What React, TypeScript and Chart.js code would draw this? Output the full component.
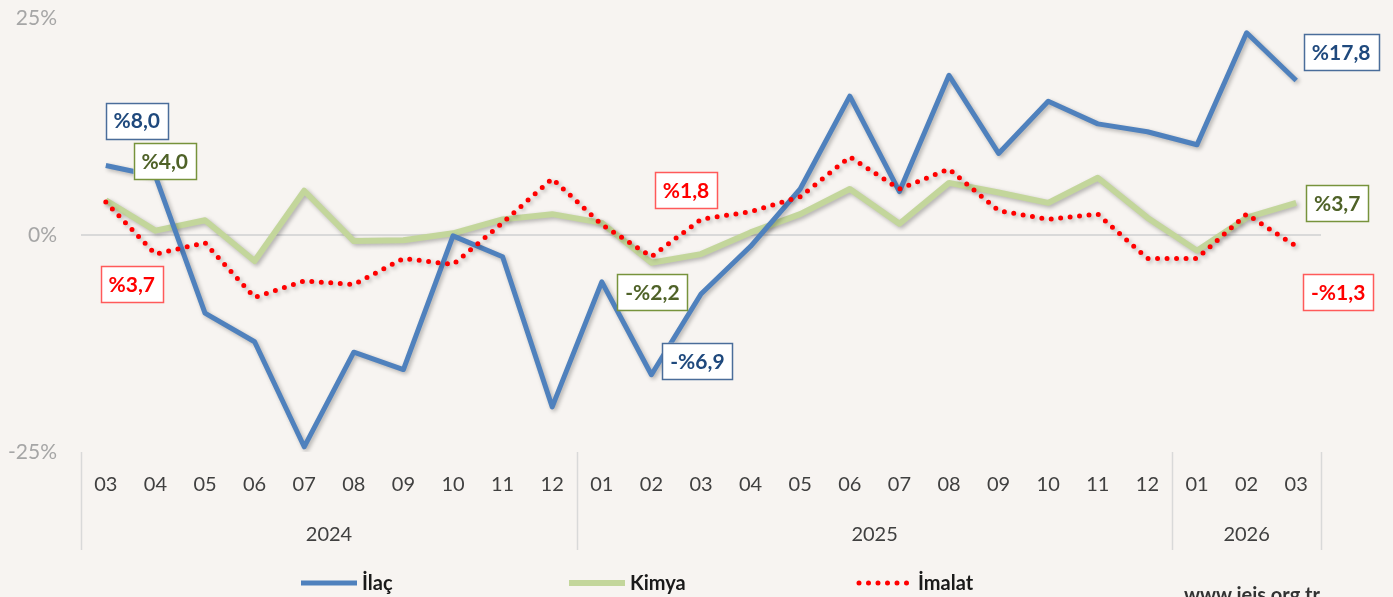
import { useEffect, useRef } from "react";
import { Chart, registerables } from "chart.js";

Chart.register(...registerables);

const months = ["03","04","05","06","07","08","09","10","11","12","01","02","03","04","05","06","07","08","09","10","11","12","01","02","03"];
const yearLabels = ["2024", "2025", "2026"];
const yearStarts = [0, 10, 22];

const ilac = [8.0, 6.8, -9.0, -12.3, -24.4, -13.5, -15.5, -0.1, -2.5, -19.8, -5.4, -16.1, -6.8, -1.3, 5.3, 16.0, 5.0, 18.4, 9.4, 15.4, 12.8, 11.9, 10.4, 23.3, 17.8];
const kimya = [4.0, 0.5, 1.7, -3.0, 5.1, -0.7, -0.6, 0.2, 1.8, 2.4, 1.4, -3.2, -2.2, 0.3, 2.4, 5.3, 1.3, 6.0, 4.9, 3.7, 6.6, 2.0, -1.8, 2.0, 3.7];
const imalat = [3.8, -2.2, -0.9, -7.2, -5.3, -5.7, -2.7, -3.4, 1.4, 6.5, 1.2, -2.5, 1.8, 2.7, 4.4, 9.0, 5.3, 7.6, 2.8, 1.8, 2.4, -2.7, -2.7, 2.4, -1.3];

const seriesNames = ["İlaç", "Kimya", "İmalat"];
const yMin = -25;
const yMax = 25;
const yStep = 25;

const calloutTexts = ["%8,0", "%4,0", "%3,7", "%1,8", "-%2,2", "-%6,9", "%17,8", "%3,7", "-%1,3"];
const calloutSeries = [0, 1, 2, 2, 1, 0, 0, 1, 2];
const calloutIndex = [0, 0, 0, 12, 11, 11, 24, 24, 24];

const FONT = "Lato, 'Open Sans', sans-serif";
const seriesColors = ["#4f81bd", "#c3d69b", "#ff0000"];
const calloutTextColors = ["#1f497d", "#4f6228", "#ff0000"];
const calloutBorderColors = ["#4a6d9a", "#77933c", "#ff5a5a"];
// pixel offsets of the callout box centres from their anchor point
const calloutOffsets: [number, number][] = [[31, -45], [59, -39], [26, 82], [-15, -29], [1, 29], [46, -14], [45, -28], [41, 0], [42, 46]];

const decorPlugin = {
  id: "decor",
  beforeDatasetsDraw(chart: any) {
    const ctx = chart.ctx;
    const area = chart.chartArea;
    const y0 = Math.round(chart.scales.y.getPixelForValue(0));
    ctx.save();
    ctx.strokeStyle = "#d9d9d9";
    ctx.lineWidth = 2;
    ctx.beginPath();
    ctx.moveTo(area.left, y0);
    ctx.lineTo(area.right, y0);
    ctx.stroke();
    ctx.restore();
    ctx.save();
    ctx.shadowColor = "rgba(0,0,0,0.28)";
    ctx.shadowBlur = 4;
    ctx.shadowOffsetX = 2;
    ctx.shadowOffsetY = 2;
  },
  afterDatasetsDraw(chart: any) {
    chart.ctx.restore();
  },
  afterDraw(chart: any) {
    const ctx = chart.ctx;
    const x = chart.scales.x;
    const area = chart.chartArea;
    const step = x.getPixelForValue(1) - x.getPixelForValue(0);
    ctx.save();
    ctx.strokeStyle = "#d9d9d9";
    ctx.lineWidth = 1.5;
    const bounds = [...yearStarts, months.length];
    bounds.forEach((b) => {
      const px = Math.round(x.getPixelForValue(b) - step / 2) + 0.5;
      ctx.beginPath();
      ctx.moveTo(px, area.bottom);
      ctx.lineTo(px, area.bottom + 98);
      ctx.stroke();
    });
    ctx.fillStyle = "#404040";
    ctx.font = `20px ${FONT}`;
    ctx.textAlign = "center";
    ctx.textBaseline = "middle";
    yearLabels.forEach((lab, i) => {
      const a = x.getPixelForValue(bounds[i]) - step / 2;
      const b = x.getPixelForValue(bounds[i + 1]) - step / 2;
      ctx.fillText(lab, (a + b) / 2, area.bottom + 83);
    });
    ctx.restore();

    ctx.save();
    ctx.font = `bold 21px ${FONT}`;
    ctx.textAlign = "center";
    ctx.textBaseline = "middle";
    calloutTexts.forEach((t, i) => {
      const s = calloutSeries[i];
      const meta = chart.getDatasetMeta(s);
      const pt = meta.data[calloutIndex[i]];
      const cx = pt.x + calloutOffsets[i][0];
      const cy = pt.y + calloutOffsets[i][1];
      const w = ctx.measureText(t).width + 16;
      const h = 36;
      ctx.fillStyle = "#ffffff";
      ctx.fillRect(cx - w / 2, cy - h / 2, w, h);
      ctx.strokeStyle = calloutBorderColors[s];
      ctx.lineWidth = 1.5;
      ctx.strokeRect(Math.round(cx - w / 2) + 0.5, Math.round(cy - h / 2) + 0.5, Math.round(w), h);
      ctx.fillStyle = calloutTextColors[s];
      ctx.fillText(t, cx, cy + 1);
    });
    ctx.restore();

    ctx.save();
    const legendX = [301, 569, 857];
    const ly = 583;
    ctx.font = `bold 20px ${FONT}`;
    ctx.textBaseline = "middle";
    ctx.textAlign = "left";
    chart.data.datasets.forEach((ds: any, i: number) => {
      const x0 = legendX[i];
      ctx.strokeStyle = ds.borderColor;
      ctx.lineWidth = ds.borderWidth;
      ctx.lineCap = i === 2 ? "round" : "butt";
      ctx.setLineDash(i === 2 ? [0, 9.5] : []);
      ctx.beginPath();
      ctx.moveTo(x0 + (i === 2 ? 2 : 0), ly);
      ctx.lineTo(x0 + 56, ly);
      ctx.stroke();
      ctx.setLineDash([]);
      ctx.fillStyle = "#1a1a1a";
      ctx.fillText(ds.label, x0 + 61, ly + 1);
    });
    ctx.font = `bold 20px ${FONT}`;
    ctx.fillStyle = "#333333";
    ctx.textBaseline = "top";
    ctx.fillText("www.ieis.org.tr", 1184, 586);
    ctx.restore();
  },
};

export default function App() {
  const ref = useRef<HTMLCanvasElement>(null);
  useEffect(() => {
    document.body.style.margin = "0";
    const chart = new Chart(ref.current!, {
      type: "line",
      data: {
        labels: months,
        datasets: [
          { label: seriesNames[0], data: ilac, borderColor: seriesColors[0], borderWidth: 5, pointRadius: 0, tension: 0, order: 1, borderJoinStyle: "round" },
          { label: seriesNames[1], data: kimya, borderColor: seriesColors[1], borderWidth: 6, pointRadius: 0, tension: 0, order: 2, borderJoinStyle: "round" },
          { label: seriesNames[2], data: imalat, borderColor: seriesColors[2], borderWidth: 5, pointRadius: 0, tension: 0, order: 0, borderDash: [0, 9.5], borderCapStyle: "round" },
        ],
      },
      options: {
        responsive: false,
        animation: false,
        devicePixelRatio: 1,
        layout: { padding: { top: 18, right: 72, left: 0, bottom: 0 } },
        plugins: { legend: { display: false }, tooltip: { enabled: false } },
        scales: {
          y: {
            min: yMin,
            max: yMax,
            afterFit: (s: any) => { s.width = 81; },
            ticks: { stepSize: yStep, color: "#a6a6a6", font: { size: 21, family: FONT }, padding: 4, callback: (v: any) => v + "%" },
            grid: { display: true, drawOnChartArea: false, drawTicks: true, tickLength: 20, tickColor: "rgba(0,0,0,0)", color: "rgba(0,0,0,0)" },
            border: { display: false },
          },
          x: {
            offset: true,
            afterFit: (s: any) => { s.height = 145; },
            ticks: { color: "#404040", font: { size: 20, family: FONT }, padding: 21, maxRotation: 0, autoSkip: false },
            grid: { display: false, drawTicks: false },
            border: { display: false },
          },
        },
      },
      plugins: [decorPlugin],
    } as any);
    return () => chart.destroy();
  }, []);
  return (
    <div style={{ position: "fixed", left: 0, top: 0, width: 1393, height: 597, background: "#f7f4f1" }}>
      <canvas ref={ref} width={1393} height={597} style={{ display: "block" }} />
    </div>
  );
}
